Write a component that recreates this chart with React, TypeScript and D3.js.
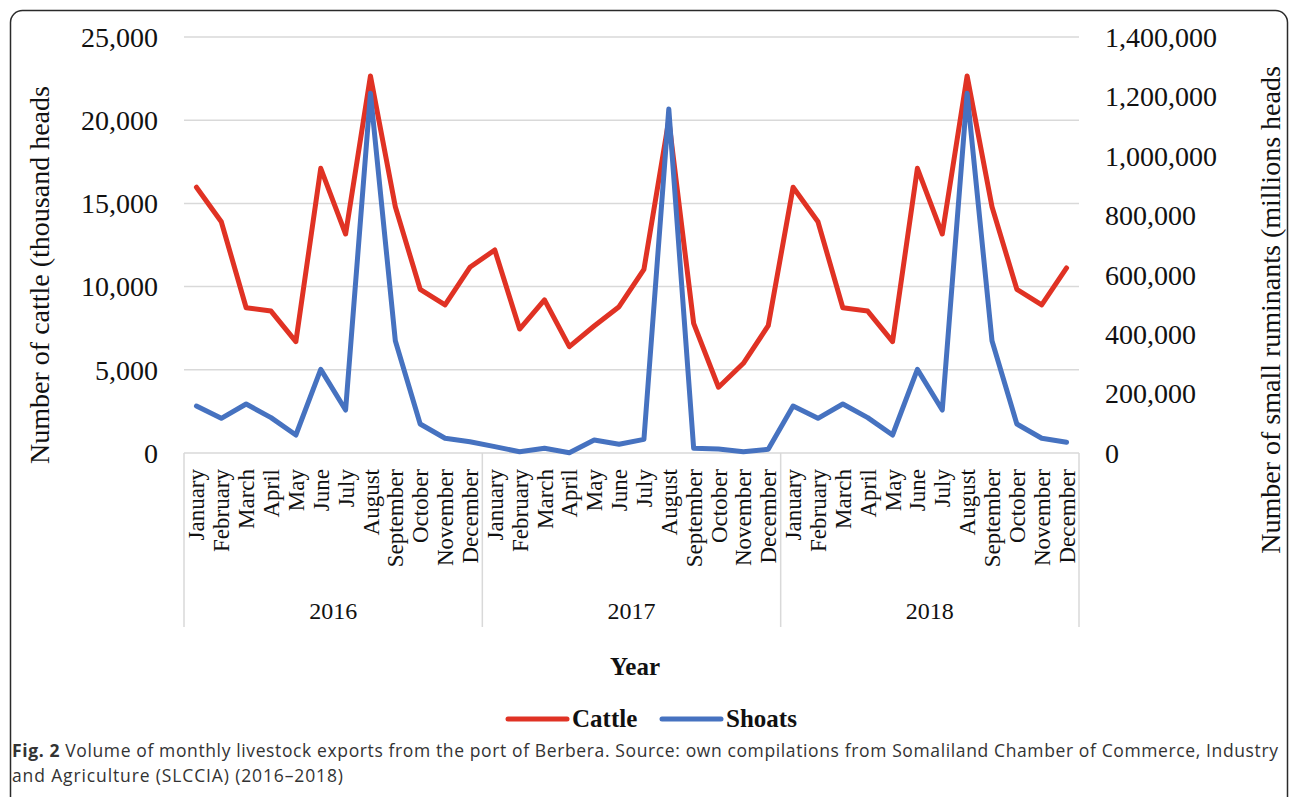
import React, { useRef, useEffect } from 'react';
import * as d3 from 'd3';

const months = [
  "January", "February", "March", "April", "May", "June",
  "July", "August", "September", "October", "November", "December"
];
const years = ["2016", "2017", "2018"];

// cattle exports (left axis)
const cattle = [
  15970, 13900, 8730, 8530, 6690, 17110, 13160, 22660, 14800, 9840, 8900, 11160,
  12200, 7450, 9200, 6390, 7630, 8790, 11040, 20000, 7790, 3950, 5390, 7650,
  15970, 13900, 8730, 8530, 6690, 17110, 13160, 22660, 14800, 9840, 8900, 11120
];
// shoats exports (right axis)
const shoats = [
  158200, 116700, 164900, 118900, 60600, 281600, 144700, 1210500, 378000, 97600, 49500, 38000,
  21300, 4400, 15700, 1000, 43700, 29200, 46000, 1157700, 15700, 13500, 4400, 12400,
  158200, 116700, 165000, 119000, 60600, 281600, 144700, 1210500, 378000, 97600, 49500, 36000
];

const leftTicks = [0, 5000, 10000, 15000, 20000, 25000];
const rightTicks = [0, 200000, 400000, 600000, 800000, 1000000, 1200000, 1400000];

const series = [
  { name: "Cattle", color: "#E03224" },
  { name: "Shoats", color: "#4672C0" }
];

const WIDTH = 1290;
const HEIGHT = 797;
const serif = "'Liberation Serif', 'Times New Roman', serif";

export default function App() {
  const svgRef = useRef<SVGSVGElement>(null);

  useEffect(() => {
    if (!svgRef.current) return;
    const svg = d3.select(svgRef.current);
    svg.selectAll("*").remove();

    const left = 184, right = 1079, top = 37, bottom = 453;

    const cats = years.flatMap(y => months.map(m => `${y}-${m}`));
    const x = d3.scaleBand().domain(cats).range([left, right]);
    const yL = d3.scaleLinear().domain([0, 25000]).range([bottom, top]);
    const yR = d3.scaleLinear().domain([0, 1400000]).range([bottom, top]);
    const cx = (i: number) => (x(cats[i]) || 0) + x.bandwidth() / 2;
    const fmt = d3.format(",");

    // outer frame
    svg.append("rect")
      .attr("x", 10.5).attr("y", 10.5)
      .attr("width", 1277).attr("height", 800)
      .attr("rx", 12)
      .attr("fill", "white")
      .attr("stroke", "#2a2a2a")
      .attr("stroke-width", 1.5);

    // gridlines
    svg.append("g")
      .selectAll("line")
      .data(leftTicks)
      .join("line")
      .attr("x1", left).attr("x2", right)
      .attr("y1", d => yL(d)).attr("y2", d => yL(d))
      .attr("stroke", "#D9D9D9")
      .attr("stroke-width", 1.5);

    // year separators
    const sepX = [0, 12, 24].map(i => x(cats[i]) || 0).concat([right]);
    svg.append("g")
      .selectAll("line")
      .data(sepX)
      .join("line")
      .attr("x1", d => d).attr("x2", d => d)
      .attr("y1", bottom).attr("y2", 627)
      .attr("stroke", "#D9D9D9")
      .attr("stroke-width", 1.5);

    // left tick labels
    svg.append("g")
      .selectAll("text")
      .data(leftTicks)
      .join("text")
      .attr("x", 158)
      .attr("y", d => yL(d))
      .attr("dy", "0.35em")
      .attr("text-anchor", "end")
      .attr("font-family", serif)
      .attr("font-size", 28)
      .attr("fill", "#111")
      .text(d => fmt(d));

    // right tick labels
    svg.append("g")
      .selectAll("text")
      .data(rightTicks)
      .join("text")
      .attr("x", 1105)
      .attr("y", d => yR(d))
      .attr("dy", "0.35em")
      .attr("text-anchor", "start")
      .attr("font-family", serif)
      .attr("font-size", 28)
      .attr("fill", "#111")
      .text(d => fmt(d));

    // month labels
    svg.append("g")
      .selectAll("text")
      .data(cats)
      .join("text")
      .attr("transform", (d, i) => `translate(${cx(i)},469) rotate(-90)`)
      .attr("dy", "0.35em")
      .attr("text-anchor", "end")
      .attr("font-family", serif)
      .attr("font-size", 23)
      .attr("fill", "#111")
      .text(d => d.split("-")[1]);

    // year labels
    svg.append("g")
      .selectAll("text")
      .data(years)
      .join("text")
      .attr("x", (d, i) => (sepX[i] + sepX[i + 1]) / 2)
      .attr("y", 619)
      .attr("text-anchor", "middle")
      .attr("font-family", serif)
      .attr("font-size", 24)
      .attr("fill", "#111")
      .text(d => d);

    // axis titles
    svg.append("text")
      .attr("transform", "translate(49,275) rotate(-90)")
      .attr("text-anchor", "middle")
      .attr("font-family", serif)
      .attr("font-size", 28)
      .attr("fill", "#111")
      .text("Number of cattle (thousand heads");

    svg.append("text")
      .attr("transform", "translate(1280,310) rotate(-90)")
      .attr("text-anchor", "middle")
      .attr("font-family", serif)
      .attr("font-size", 28)
      .attr("fill", "#111")
      .text("Number of small ruminants (millions heads");

    svg.append("text")
      .attr("x", 635).attr("y", 675)
      .attr("text-anchor", "middle")
      .attr("font-family", serif)
      .attr("font-weight", "bold")
      .attr("font-size", 25)
      .attr("fill", "#111")
      .text("Year");

    // lines
    const lineL = d3.line<number>().x((d, i) => cx(i)).y(d => yL(d));
    const lineR = d3.line<number>().x((d, i) => cx(i)).y(d => yR(d));

    svg.append("path")
      .datum(cattle)
      .attr("d", lineL)
      .attr("fill", "none")
      .attr("stroke", series[0].color)
      .attr("stroke-width", 5)
      .attr("stroke-linejoin", "round")
      .attr("stroke-linecap", "round");

    svg.append("path")
      .datum(shoats)
      .attr("d", lineR)
      .attr("fill", "none")
      .attr("stroke", series[1].color)
      .attr("stroke-width", 5)
      .attr("stroke-linejoin", "round")
      .attr("stroke-linecap", "round");

    // legend
    const legendX = [508, 662];
    const lg = svg.append("g")
      .selectAll("g")
      .data(series)
      .join("g")
      .attr("transform", (d, i) => `translate(${legendX[i]},719)`);
    lg.append("line")
      .attr("x1", 0).attr("x2", 59)
      .attr("stroke", d => d.color)
      .attr("stroke-width", 5)
      .attr("stroke-linecap", "round");
    lg.append("text")
      .attr("x", 64).attr("y", 8)
      .attr("font-family", serif)
      .attr("font-weight", "bold")
      .attr("font-size", 25)
      .attr("fill", "#111")
      .text(d => d.name);

    // caption
    const cap = svg.append("g")
      .attr("font-family", "'Open Sans', sans-serif")
      .attr("font-size", 17.5)
      .attr("fill", "#333");
    const l1 = cap.append("text")
      .attr("x", 12).attr("y", 757)
      .attr("textLength", 1266)
      .attr("lengthAdjust", "spacing");
    l1.append("tspan").attr("font-weight", "bold").text("Fig. 2");
    l1.append("tspan").text(" Volume of monthly livestock exports from the port of Berbera. Source: own compilations from Somaliland Chamber of Commerce, Industry");
    cap.append("text")
      .attr("x", 12).attr("y", 782)
      .attr("textLength", 331)
      .attr("lengthAdjust", "spacing")
      .text("and Agriculture (SLCCIA) (2016\u20132018)");
  }, []);

  return (
    <svg
      ref={svgRef}
      width={WIDTH}
      height={HEIGHT}
      style={{ position: "absolute", left: 0, top: 0, background: "white" }}
    />
  );
}
